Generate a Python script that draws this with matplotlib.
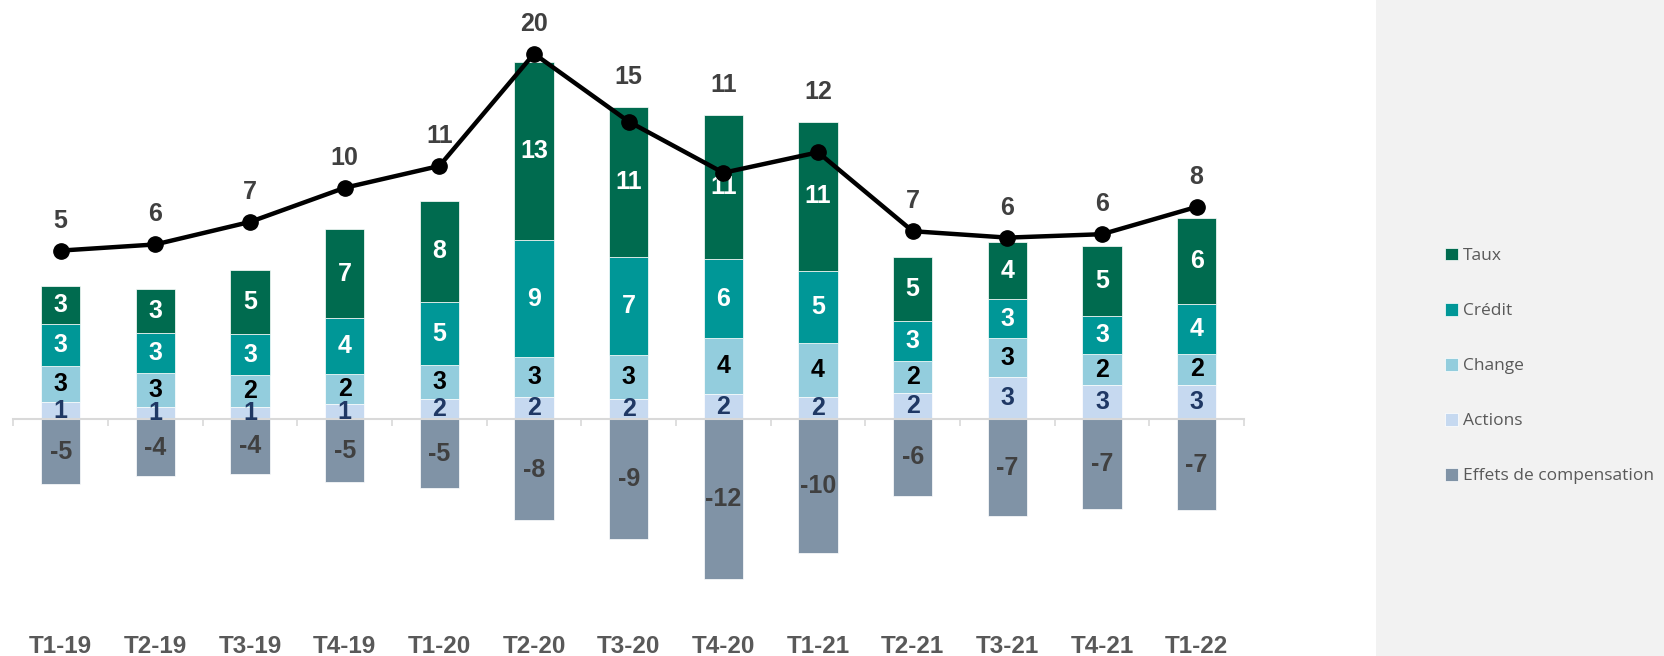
import matplotlib
matplotlib.use("Agg")
import matplotlib.pyplot as plt
from matplotlib.patches import Rectangle
import numpy as np

categories = ["T1-19", "T2-19", "T3-19", "T4-19", "T1-20", "T2-20", "T3-20",
              "T4-20", "T1-21", "T2-21", "T3-21", "T4-21", "T1-22"]
actions = [1.31, 0.94, 0.94, 1.14, 1.55, 1.69, 1.52, 1.90, 1.65, 1.98, 3.20, 2.58, 2.58]
change = [2.66, 2.54, 2.36, 2.29, 2.52, 2.96, 3.33, 4.23, 4.08, 2.38, 2.89, 2.31, 2.35]
credit = [3.23, 3.04, 3.11, 4.15, 4.72, 8.83, 7.32, 5.89, 5.44, 3.05, 2.93, 2.88, 3.74]
taux = [2.81, 3.26, 4.85, 6.75, 7.66, 13.39, 11.31, 10.83, 11.18, 4.81, 4.31, 5.29, 6.45]
effets = [-4.90, -4.28, -4.08, -4.70, -5.15, -7.55, -9.02, -12.03, -10.03, -5.74, -7.27, -6.72, -6.84]
total = [5.1, 5.55, 7.2, 9.7, 11.3, 19.52, 14.55, 10.8, 12.3, 6.52, 6.05, 6.3, 8.3]

series_names = ["Taux", "Crédit", "Change", "Actions", "Effets de compensation"]
c_taux, c_credit, c_change, c_actions, c_effets = "#006b4f", "#009797", "#93cddd", "#c6d9f0", "#8093a6"

BOLD = ["Liberation Sans Narrow", "Liberation Sans", "DejaVu Sans"]
W, H = 1665, 656
fig = plt.figure(figsize=(W / 100, H / 100), dpi=100)
fig.patches.append(Rectangle((1376 / W, 0), 1 - 1376 / W, 1, transform=fig.transFigure,
                             facecolor="#f2f2f2", edgecolor="none", zorder=0))

ax_top, ax_bot = 10, 600
ax = fig.add_axes([13.4 / W, (H - ax_bot) / H, (1244 - 13.4) / W, (ax_bot - ax_top) / H])
ax.patch.set_visible(False)
x = np.arange(len(categories))
bw = 0.415

a = np.array(actions); ch = np.array(change); cr = np.array(credit); t = np.array(taux)
kw = dict(width=bw, edgecolor="white", linewidth=0.5, zorder=2)
b_act = ax.bar(x, a, color=c_actions, label="Actions", **kw)
b_chg = ax.bar(x, ch, bottom=a, color=c_change, label="Change", **kw)
b_cre = ax.bar(x, cr, bottom=a + ch, color=c_credit, label="Crédit", **kw)
b_tau = ax.bar(x, t, bottom=a + ch + cr, color=c_taux, label="Taux", **kw)
b_eff = ax.bar(x, effets, color=c_effets, label="Effets de compensation", **kw)

lab_kw = dict(label_type="center", fmt="{:.0f}", fontsize=18, fontweight="bold", family=BOLD)
ax.bar_label(b_act, color="#1f3864", **lab_kw)
ax.bar_label(b_chg, color="black", **lab_kw)
ax.bar_label(b_cre, color="white", **lab_kw)
ax.bar_label(b_tau, color="white", **lab_kw)
ax.bar_label(b_eff, color="#404040", **lab_kw)

u = 13.3
y0 = 419.3
ax.set_ylim((y0 - ax_bot) / u, (y0 - ax_top) / u)
ax.set_xlim(-0.5, len(categories) - 0.5)

for s in ["top", "left", "right"]:
    ax.spines[s].set_visible(False)
ax.spines["bottom"].set_position(("data", 0))
ax.spines["bottom"].set_color("#d9d9d9")
ax.spines["bottom"].set_linewidth(1.5)
ax.set_yticks([])
ax.set_xticks(x)
ax.set_xticklabels(categories)
ax.set_xticks(np.arange(-0.5, len(categories), 1.0), minor=True)
ax.tick_params(axis="x", which="major", length=0, pad=155, labelsize=17.5, labelcolor="#595959")
ax.tick_params(axis="x", which="minor", length=5, width=1.2, color="#d9d9d9", direction="out")
for lbl in ax.get_xticklabels():
    lbl.set_fontweight("bold")
    lbl.set_family(BOLD)

ax2 = ax.twinx()
u2 = 13.65
z2 = 320.2
ax2.set_ylim((z2 - ax_bot) / u2, (z2 - ax_top) / u2)
ax2.plot(x, total, color="black", linewidth=3.2, marker="o", markersize=11, zorder=5)
ax2.set_yticks([])
for s in ax2.spines.values():
    s.set_visible(False)

# line value labels: placed above the dot, or above the bar top when the bar is higher
fig.canvas.draw()
bar_tops = a + ch + cr + t
for xi, v, bt in zip(x, total, bar_tops):
    dot_disp = ax2.transData.transform((xi, v))[1]
    bar_disp = ax.transData.transform((xi, bt))[1]
    base = max(dot_disp, bar_disp)
    y_lab = ax2.transData.inverted().transform((0, base + 30))[1]
    ax2.text(xi, y_lab, f"{v:.0f}", ha="center", va="center", fontsize=18,
             fontweight="bold", family=BOLD, color="#404040")

leg_fs = 12.5
fig.legend(handles=[b_tau, b_cre, b_chg, b_act, b_eff], labels=series_names,
           loc="upper left", bbox_to_anchor=(1445 / W, (H - 248) / H),
           frameon=False, borderpad=0, borderaxespad=0,
           handlelength=0.73, handleheight=0.73, handletextpad=0.32,
           labelspacing=2.23, labelcolor="#595959",
           prop={"family": ["Open Sans", "DejaVu Sans"], "size": leg_fs})

fig.savefig("out.png", dpi=100)
